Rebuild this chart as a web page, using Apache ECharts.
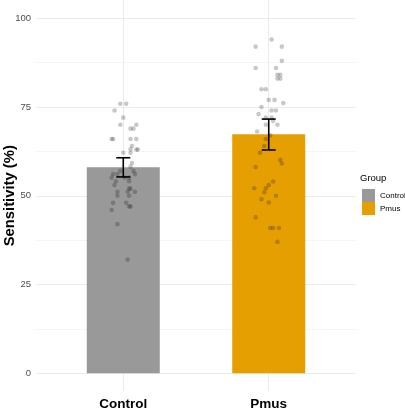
<!doctype html>
<html lang="en">
<head>
  <meta charset="UTF-8">
  <title>Sensitivity</title>
</head>
<body style="margin:0;background:#fff">
<div id="main" style="width: 405px;height: 409px"></div>
<script src="https://cdn.jsdelivr.net/npm/echarts@6/dist/echarts.min.js"></script>
<script>
    // groups, bar means and error bar limits
    const groups = ['Control', 'Pmus']
    const colors = ['#999999', '#E69F00']
    const means = [58.0, 67.3]
    const errLow = [55.3, 62.9]
    const errHigh = [60.7, 71.6]
    const yTicks = [0, 25, 50, 75, 100]
    const yMinor = [12.5, 37.5, 62.5, 87.5]

    // individual points, [jittered x position, value]
    const controlPoints = [
        [0.98, 75.9], [1.02, 75.9], [0.94, 74.0], [1.00, 72.0], [0.98, 70.0],
        [1.05, 68.9], [1.07, 68.9], [1.09, 70.0], [0.92, 66.0], [0.93, 66.0],
        [1.05, 66.0], [1.09, 66.0], [1.06, 64.0], [1.05, 63.1], [1.09, 63.0],
        [1.10, 63.0], [1.00, 62.1], [1.05, 62.1], [1.06, 59.2], [1.05, 58.2],
        [0.98, 57.0], [1.07, 57.0], [0.93, 56.1], [0.96, 56.1], [1.08, 56.1],
        [0.92, 55.1], [1.01, 55.1], [1.04, 55.1], [0.95, 54.1], [1.04, 54.1],
        [0.94, 53.0], [1.04, 52.0], [1.05, 52.0], [0.96, 51.1], [1.03, 51.1],
        [1.08, 51.1], [0.96, 50.0], [1.04, 50.0], [0.93, 48.0], [1.02, 48.0],
        [1.04, 47.0], [1.05, 47.0], [0.92, 46.0], [0.96, 42.0], [1.03, 32.0]
    ]
    const pmusPoints = [
        [2.02, 94.0], [1.91, 92.0], [2.09, 92.0], [2.09, 88.0], [1.91, 86.0],
        [2.05, 86.0], [2.06, 84.1], [2.08, 84.1], [2.06, 83.0], [2.08, 83.0],
        [1.95, 80.0], [1.98, 80.0], [2.00, 77.0], [2.04, 77.0], [2.10, 76.1],
        [1.95, 75.0], [2.02, 74.0], [2.05, 74.0], [1.93, 73.0], [1.98, 72.0],
        [2.02, 72.0], [2.03, 71.1], [1.98, 70.0], [2.06, 70.0], [1.92, 68.1],
        [2.01, 67.0], [1.98, 66.0], [1.97, 64.0], [1.94, 62.1], [2.08, 60.1],
        [2.09, 59.1], [1.91, 58.1], [2.03, 54.0], [2.00, 53.0], [1.98, 52.1],
        [1.90, 52.1], [1.97, 51.0], [2.05, 50.0], [1.95, 49.0], [2.00, 48.1],
        [1.91, 43.9], [2.01, 40.9], [2.03, 40.9], [2.07, 40.9], [2.06, 37.0]
    ]

    const gridColor = '#EBEBEB'
    const gridLines = yTicks.map(v => ({yAxis: v, lineStyle: {width: 1}}))
        .concat(yMinor.map(v => ({yAxis: v, lineStyle: {width: 0.5}})))
        .concat([1, 2].map(v => ({xAxis: v, lineStyle: {width: 1}})))

    const pointStyle = {color: 'rgba(0,0,0,0.27)'}

    let myCharts = echarts.init(document.querySelector('#main'))
    myCharts.setOption({
        animation: false,
        textStyle: {fontFamily: 'Liberation Sans'},
        title: {
            text: 'Group',
            left: 360,
            top: 173,
            padding: 0,
            textStyle: {fontSize: 9.5, fontWeight: 'normal', color: '#000'}
        },
        legend: {
            data: groups,
            orient: 'vertical',
            left: 362,
            top: 189,
            itemWidth: 13,
            itemHeight: 13,
            itemGap: 0,
            icon: 'rect',
            textStyle: {fontSize: 8, color: '#000', padding: [0, 0, 0, 0]},
            padding: 0,
            selectedMode: false
        },
        grid: {left: 36, right: 49, top: 0.5, bottom: 18, outerBoundsMode: 'none', containLabel: false},
        xAxis: {
            type: 'value',
            min: 0.4,
            max: 2.6,
            axisLine: {show: false},
            axisTick: {show: false},
            splitLine: {show: false},
            axisLabel: {
                customValues: [1, 2],
                formatter: v => groups[Math.round(v) - 1],
                fontSize: 13.5,
                fontWeight: 'bold',
                color: '#000',
                margin: 6
            }
        },
        yAxis: {
            type: 'value',
            min: -5,
            max: 105,
            name: 'Sensitivity (%)',
            nameLocation: 'middle',
            nameGap: 19,
            nameMoveOverlap: false,
            nameTextStyle: {fontSize: 14.8, fontWeight: 'bold', color: '#000'},
            axisLine: {show: false},
            axisTick: {show: false},
            splitLine: {show: false},
            axisLabel: {
                customValues: yTicks,
                fontSize: 9.5,
                color: '#4D4D4D',
                margin: 5
            }
        },
        series: [
            {
                name: 'Control',
                type: 'bar',
                barWidth: 73,
                barGap: '-100%',
                itemStyle: {color: colors[0]},
                data: [[1, means[0]]],
                markLine: {
                    silent: true,
                    symbol: 'none',
                    label: {show: false},
                    lineStyle: {color: gridColor, type: 'solid'},
                    data: gridLines,
                    z: -1
                },
                z: 2
            },
            {
                name: 'Pmus',
                type: 'bar',
                barWidth: 73,
                barGap: '-100%',
                itemStyle: {color: colors[1]},
                data: [[2, means[1]]],
                z: 2
            },
            {
                type: 'scatter',
                symbolSize: 4.6,
                itemStyle: pointStyle,
                data: controlPoints,
                z: 3
            },
            {
                type: 'scatter',
                symbolSize: 4.6,
                itemStyle: pointStyle,
                data: pmusPoints,
                z: 3
            },
            {
                type: 'custom',
                z: 4,
                data: groups.map((g, i) => [i + 1, errLow[i], errHigh[i]]),
                renderItem: function (params, api) {
                    const lo = api.coord([api.value(0), api.value(1)])
                    const hi = api.coord([api.value(0), api.value(2)])
                    const half = 7
                    const style = {stroke: '#000', lineWidth: 1.6}
                    return {
                        type: 'group',
                        children: [
                            {type: 'line', shape: {x1: lo[0], y1: lo[1], x2: hi[0], y2: hi[1]}, style: style},
                            {type: 'line', shape: {x1: lo[0] - half, y1: lo[1], x2: lo[0] + half, y2: lo[1]}, style: style},
                            {type: 'line', shape: {x1: hi[0] - half, y1: hi[1], x2: hi[0] + half, y2: hi[1]}, style: style}
                        ]
                    }
                }
            }
        ]
    })
</script>
</body>
</html>
